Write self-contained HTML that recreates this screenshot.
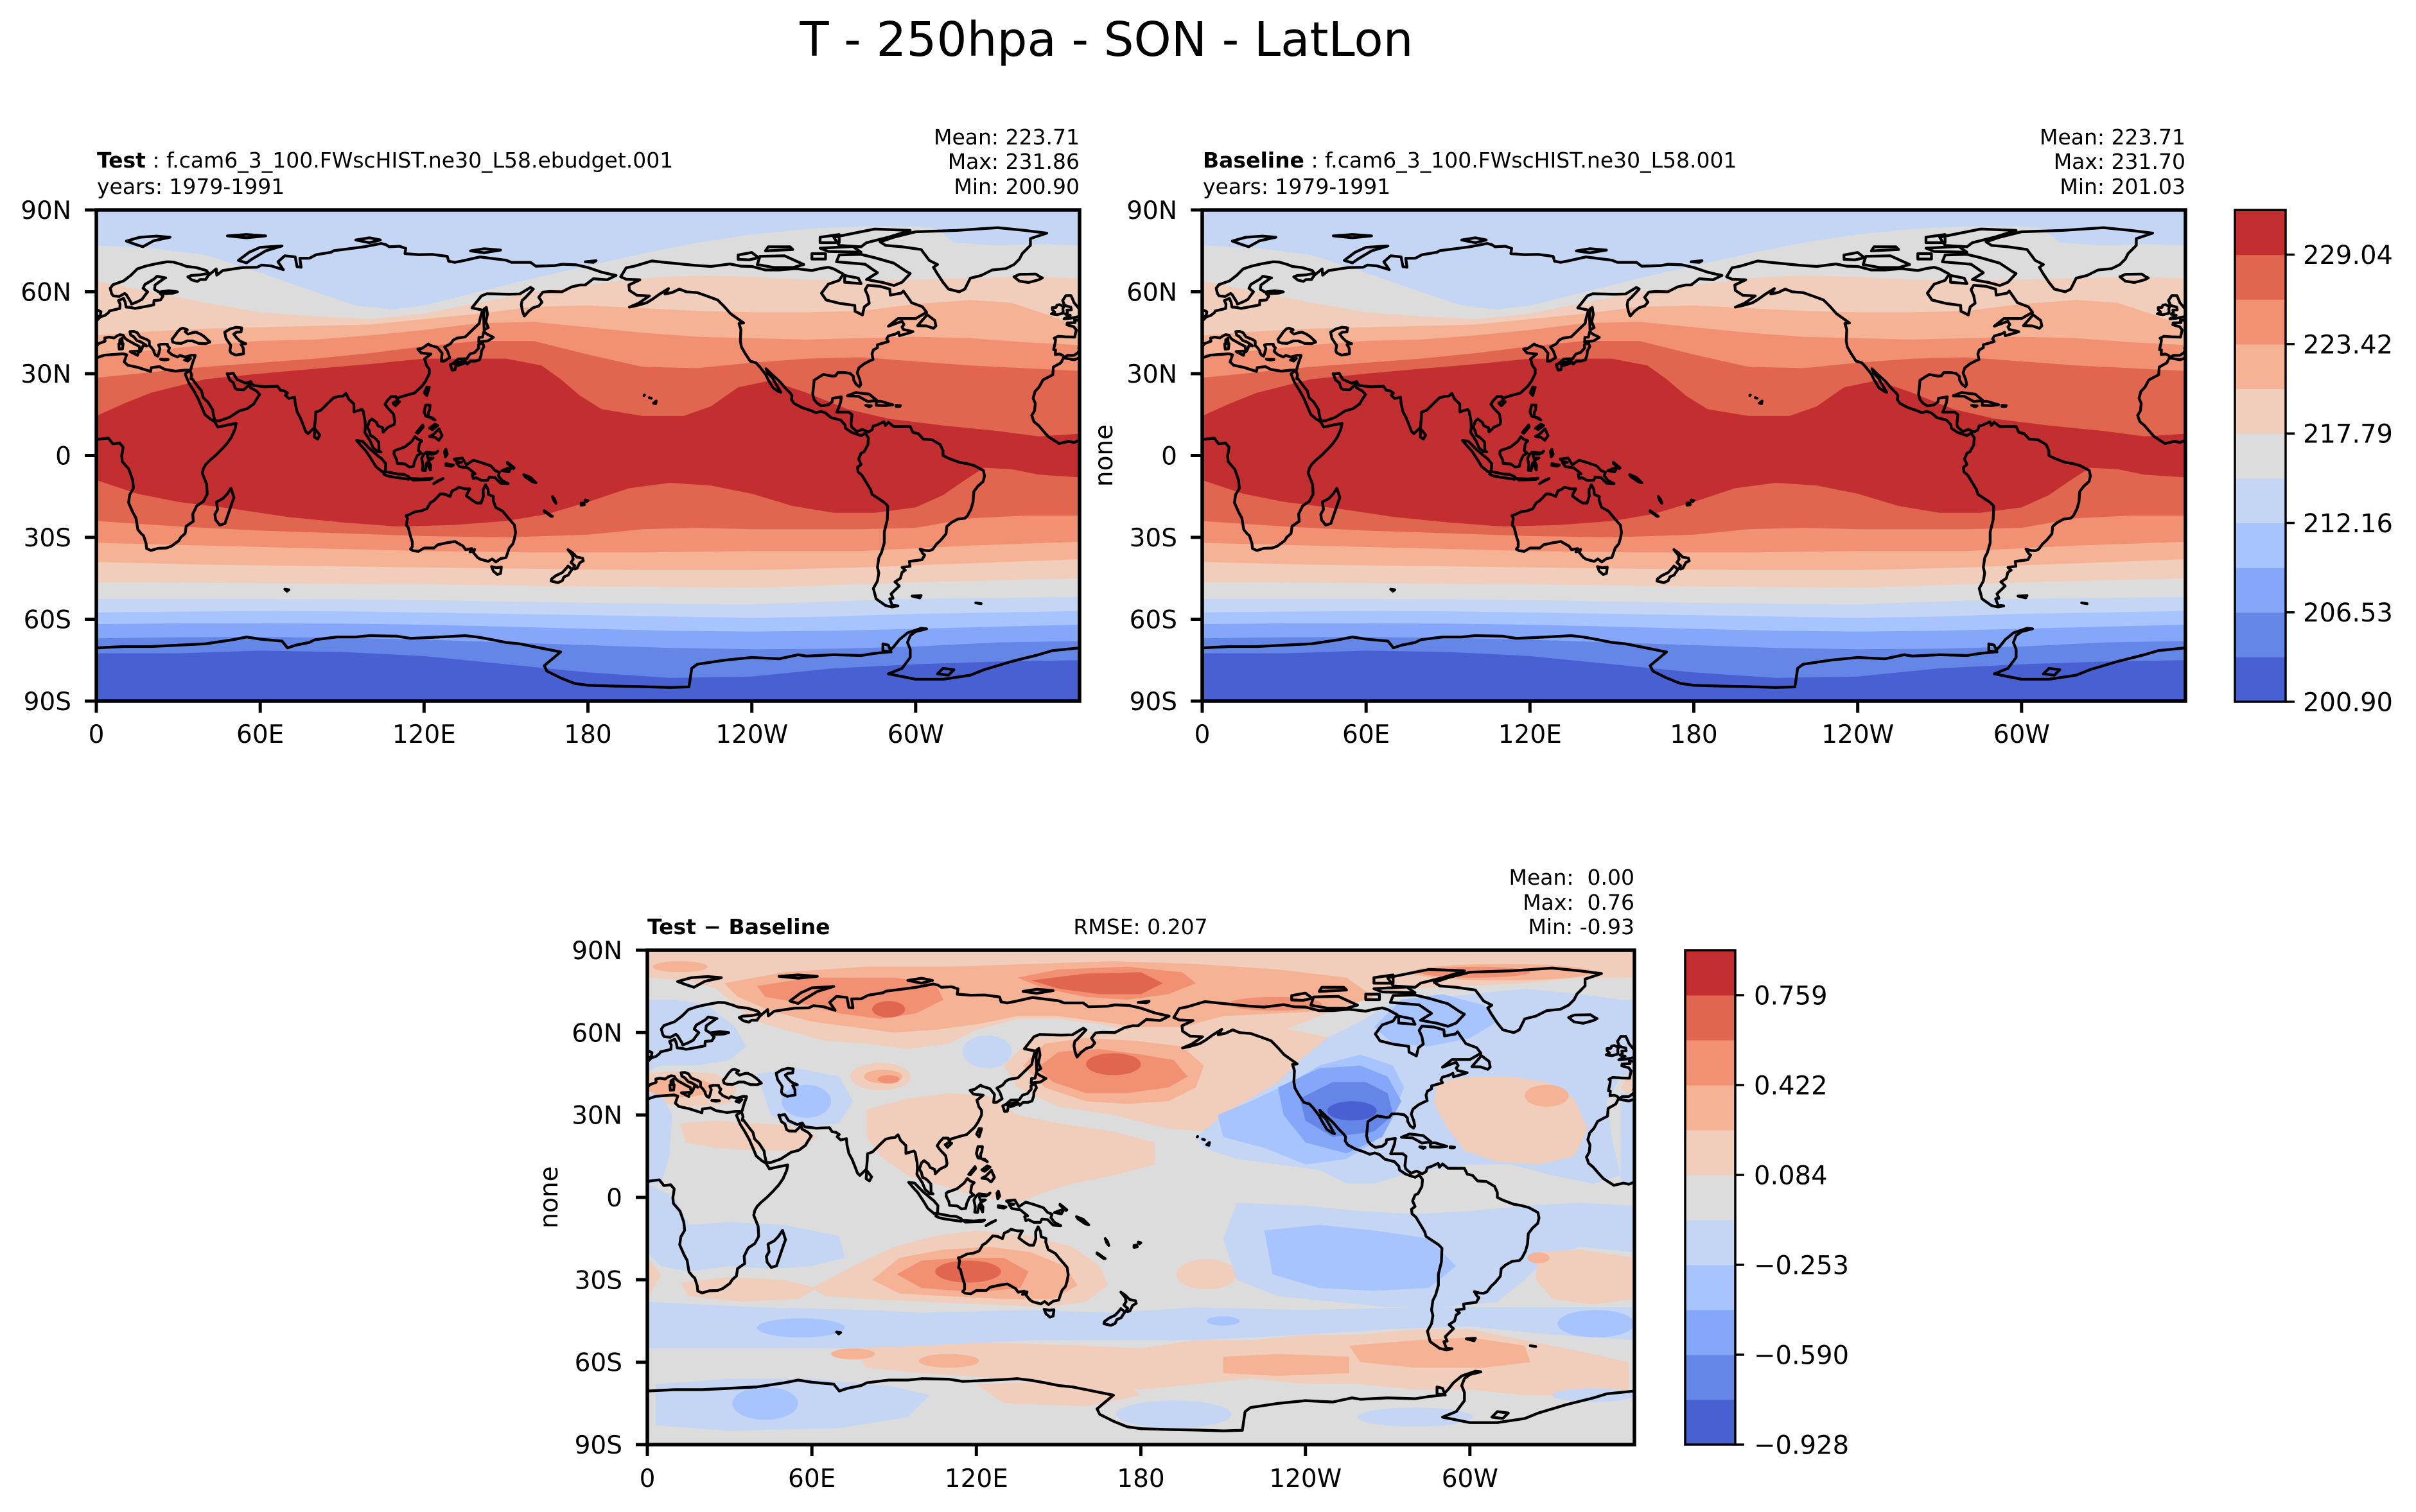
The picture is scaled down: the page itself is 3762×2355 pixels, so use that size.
<!DOCTYPE html>
<html>
<head>
<meta charset="utf-8">
<style>
html,body{margin:0;padding:0;background:#fff;}
svg{display:block;}
text{font-family:"DejaVu Sans","Liberation Sans",sans-serif;fill:#000;}
</style>
</head>
<body>
<svg xmlns="http://www.w3.org/2000/svg" width="3762" height="2355" viewBox="0 0 3762 2355">
<defs>
  <g id="bands">
    <rect x="0" y="0" width="360" height="180" fill="#4860d1"/>
    <path fill="#6486e6" d="M0,0 H360 V165 L330,165.5 300,166.5 270,168 240,171 210,171.5 180,169.5 150,166.5 120,163.5 90,162 60,161.5 30,162.5 0,162.5 Z"/>
    <path fill="#85a7fa" d="M0,0 H360 V158 L330,158.5 300,160 270,160.8 240,161 210,160.5 180,159.5 150,158.5 120,157.5 90,156.8 60,156.5 30,156.6 0,157 Z"/>
    <path fill="#a7c4fe" d="M0,0 H360 V152 L330,152.7 300,153.5 270,154.2 240,154.5 210,154.2 180,153.5 150,152.7 120,152 90,151.6 60,151.5 30,151.5 0,151.8 Z"/>
    <path fill="#c4d6f3" d="M0,0 H360 V147 L330,147.5 300,148 270,149 240,149.5 210,149 180,148.5 150,148 120,147.5 90,147.1 60,147 30,147.2 0,147.5 Z"/>
    <path fill="#dcdcdc" d="M0,13 L20,14 40,16.5 60,23 80,30 95,35 108,36.5 120,35 140,30 160,25 180,20.5 200,16 220,12 240,9 260,7 280,6 300,6 308,7 314,12 330,13 345,12.5 360,13 V141.8 L330,142.2 300,142.5 270,143.5 240,144.5 210,144.3 180,144 150,143.5 120,143 90,142.7 60,142.5 30,142.5 0,142.5 Z"/>
    <path fill="#f1cdbb" d="M0,26 L20,30 40,34 60,37.5 80,39 100,40 120,38 140,34 160,30 180,27.5 200,25 220,24 240,24.5 260,25.5 280,26 300,25.5 320,25 340,24.5 360,25 V135 L330,135.7 300,136.5 270,137.5 240,138.5 210,138.2 180,138 150,137.6 120,137.2 90,137 60,136.8 30,136.6 0,136.5 Z"/>
    <path fill="#f5b294" d="M0,46 L20,44.5 40,43.5 60,43 80,42.5 100,42 120,40 140,38 160,35.5 180,35 200,36 220,37 240,37.5 260,37.5 280,37 300,34.5 320,33 335,34 350,39 360,43 V128 L320,129.5 280,131 240,132 200,132 160,131.5 120,131 80,130.5 40,130 0,129 Z"/>
    <path fill="#f19072" d="M0,53 L20,51.5 40,49.5 60,48 80,47.5 100,46 120,44 140,41.5 160,41 180,43 200,45 220,46.5 240,47 260,47.5 280,47 300,46.5 320,47 340,48.5 360,49.5 V121.6 L320,123 280,125 240,125 200,125.5 160,125.5 120,125 80,124 40,123 0,122 Z"/>
    <path fill="#e06650" d="M0,61.5 L20,59.5 40,57.5 60,56 80,54.5 100,52.5 120,50 140,48 160,48 180,53 200,57.5 220,58 240,56 260,54.5 280,54 300,55.5 320,57 340,58 360,59 V112 L340,112 320,113 300,116.5 280,117 260,117 240,117 220,116.5 200,117 180,119 150,120 120,119.5 90,118.5 60,117.5 30,116 0,114 Z"/>
    <path fill="#c32e31" d="M0,75.5 L10,71 20,67 40,62 60,60 80,58.2 100,56.5 120,54.5 150,54.5 163,57 170,62 177,68 185,73 200,75.5 215,75.5 225,72 235,65 247,62.5 260,67 275,73 290,76.5 310,79 330,81 345,83 360,82 V98 L345,97 335,95 325,94.5 318,99 310,104.5 300,109 285,111 270,111 255,108.5 240,104 225,101 210,100 195,102 180,107 165,111.5 150,114 130,115.5 110,116 90,114.5 70,112.5 50,109.5 30,107 15,104 0,99 Z"/>
  </g>

  <g id="coast" transform="translate(0,90) scale(1,-1)">
    <path fill="none" stroke="#000" stroke-width="4.3" stroke-linejoin="round" stroke-linecap="round" vector-effect="non-scaling-stroke" d="
M-5.6 36 L-6.3 36.8 -7.4 37.2 -8.9 37 -8.8 38.7 -9.5 38.8 -8.9 41.5 -8.8 42.5 -9.3 43 -7.9 43.7 -5 43.5 -1.8 43.4 -1.2 46 -2.1 47.2 -4.6 47.9 -4.5 48.6 -1.6 48.7 -1.9 49.7 0.2 49.5 1.6 50.9 3.1 51.3 4.5 52.4 4.8 53 7 53.5 8.6 53.9 8.7 55.5 8.1 56.8 10 57.6 10.6 56.1 10.9 54.4 12.5 54.3 14.2 53.9 18.5 54.7 21 55.2 21.1 56.8 23.5 57 24.4 58.4 23.5 59.3 28 59.5 29.7 60 26.5 60.4 22.9 59.9 21.3 60.9 21.5 62.5 25 65 25.4 65.1 22.2 65.7 21.2 64.7 17.8 62.7 17.1 61.3 18.8 60 18 59 16.7 57.2 14.7 56.2 12.9 55.5 12.6 56.3 11 58.9 10.4 59.4 8.4 58.3 6.2 58.5 5.6 59.3 5.1 61.3 6.1 62.6 10 64 12.7 66.1 15 68.4 18 69.4 21.5 70.2 25.9 71 28.2 70.9 31.2 70 33 69.3 36.5 68.9 40.3 67.8 41.1 66.8 38 66.2 34.8 66 33.5 65.5 35 64.3 37 63.8 38 64.5 40 64.5 41 66 43.9 68.4 44.1 66.1 46.3 67.8 53.7 68.9 58.9 69 60.5 69.8 64 69.5 68.5 68.1 66.5 71 69 73.2 72.8 72.8 73.5 69.2 75 69 74.5 72.3 78 72.3 80.5 73.6 86 74.5 87 75.1 92 75.7 98 76.5 104.3 77.7 106 77.3 107.2 76.5 111 76.7 113.3 75.9 113 74 118 73.6 123 73.7 128.5 73 129 71.2 131.3 70.8 134.8 71.5 140.5 72.8 145 72.2 150 71.6 152 70.8 159 70.8 160.9 69.4 167.8 69.6 170.5 70.1 175.7 69.9 180 68.9 185 67.2 188 66.5 190.3 66 187 64.4 182 64.8 179 62.5 177 62.5 174 61.8 170.5 60 166 60.1 163.5 59.9 162 58 163.2 56.2 162 54.8 160 54.2 158.3 52.9 156.7 51.1 156 53 155.6 55.3 155.9 56.8 157 57.8 160 61 159 61.6 155 59.2 151 59.1 143 59.3 141 58.5 137.5 54.1 141.4 53.3 140.5 50 140.2 48.4 138.3 46.6 135.1 43.5 132 43 130.7 42.3 129.6 40.9 127.5 39.8 128.6 38.2 129.4 35.9 127.4 34.6 126.3 34.6 126.6 37.5 124.9 39.6 122 40.5 121.6 40.9 119.3 39.3 117.7 39 118.9 37.6 122.5 37.2 120.2 35.4 120.9 33 121.9 31.7 121.9 30 120.5 27.2 119.3 25.5 116.5 22.9 113.8 22.2 110.5 21.2 110.2 20.2 109.7 21.6 107.9 21.6 106.6 20.2 105.7 18.8 106.7 17.4 108.8 15.2 109.3 12.4 109 11.4 106.7 10.3 105 8.6 104.8 10.2 103.1 10.9 102.5 12.2 100.9 13.4 100 12.6 99.2 10.3 99.9 9.2 100.4 7.3 101.3 6.9 102.2 6.2 103.4 4.9 103.5 1.6 104.2 1.3 103 1.4 101.3 2.9 100.3 5.3 98.3 8.4 98.5 10.5 98.4 12.6 97.7 16.3 97.2 16.9 94.3 16 94.3 18.9 92.4 20.7 91.4 22.8 90.3 21.8 88.9 21.7 86.9 21.2 85.1 19.5 82.2 16.6 80.3 15.9 80.2 13.5 79.9 10.3 77.5 8 76.6 8.9 75.7 11.3 74.6 14 73.5 16 72.8 19.2 72.6 21.4 70.5 20.9 69.2 22.1 70 22.9 68.8 23.7 67.4 23.9 66.4 25.4 61.6 25.2 57.4 25.7 56.5 27.1 54.7 26.5 51.5 27.9 50.1 30.2 48.6 29.9 47.9 30 48.9 27.6 50.2 26.7 50.8 24.7 51.6 24.2 54 24.1 56.1 26.1 56.4 24.9 58.7 23.6 59.8 22.4 58.5 20.4 57.7 19 55.3 17.2 52.4 16.4 48.7 14 45 12.7 43.4 12.7 42.8 15.3 42.6 16.8 40.9 19.5 39.1 21.3 38.5 23.7 37.5 24.9 35.1 28.1 34.6 28.1 34.9 29.5 34.3 31.2 34.6 31.6 35 33.1 35.5 34.7 36 36 36.2 36.7 35 36.8 32.5 36.1 30.6 36.7 29.7 36.1 27.6 37 26.3 38.2 26.8 39.5 26.2 40 26 40.8 23.9 40.8 22.8 40.5 23.3 39.2 22.9 37.6 22.5 36.4 21.7 36.8 21.1 37.8 21.1 38.3 20.2 39.6 19.4 40.3 19.4 41.9 18.5 42.5 16 43.5 15 45 13.7 45.5 12.3 45.4 12.6 44.1 13.6 43.6 14.9 42.1 16.2 41.7 18 40.6 18.4 40.1 17.2 40.5 16.6 38.9 16 38 15.7 40 14.1 40.8 12.5 41.7 11.2 42.4 10.5 43 9.8 44.1 8.6 44.3 7.5 43.8 6.5 43.1 4.6 43.4 3.1 43.1 3.2 41.9 0.8 41 0 39.9 -0.3 39.3 0.1 38.7 -0.7 37.6 -2.1 36.7 -4.4 36.7 -5.6 36 Z
M-5.9 35.8 L-2 35.1 3 36.8 9.8 37.3 11.1 36.9 10.2 34.3 11.5 33.1 15.2 32.3 19.9 30.8 20.1 32.2 23.1 32.6 25 31.6 29 30.9 32.3 31.3 34.2 31.3 32.5 29.9 33.9 26.6 35.6 23.9 37.2 21 38.5 18 39.7 15.1 41.7 13.4 43.3 12.4 44.5 10.4 48 11.2 51.2 11.8 50.8 9.8 49.5 6.8 47.9 4.5 46 2.4 43.6 0 41.6 -1.7 40.1 -3.2 39.2 -4.7 38.8 -6.5 39.4 -8 40.4 -10.5 40.6 -14.2 39.2 -16.8 36.8 -18.4 35.3 -21.4 35.5 -24.1 32.9 -25.9 32.5 -28.6 31 -29.9 30.1 -31.3 27.5 -33.2 25.6 -33.9 22.6 -34 20 -34.8 18.4 -34.1 18.2 -32.2 17.3 -29.4 16.4 -28.6 15.2 -27.1 14.5 -22.9 13.4 -20.9 11.8 -17.3 12.2 -14.4 13.6 -12 13.3 -9 12.3 -6.1 11.9 -5 9.5 -2.2 9.3 0 9.5 1 9.8 3.1 8.5 4.6 6 4.3 4.4 6.4 1 6 -2 4.8 -4 5.2 -7.5 4.4 -9.7 5.8 -11.4 6.9 -13.2 8.9 -15 11 -16.7 12.4 -17.5 14.7 -16.5 16.4 -16.2 19.1 -17 21 -16.3 23.5 -14.8 25.1 -13.4 27.7 -9.8 29.6 -9.6 32.4 -6.8 34 -5.9 35.8 Z
M49.3 -12 L50.4 -15.4 49.8 -17 48.6 -20.5 47.1 -24.9 45.2 -25.5 43.7 -23.6 43.4 -21.5 44.4 -19.8 44 -17 46.3 -15.8 47.9 -14.1 49.3 -12 Z
M-168 65.5 L-166 68.8 -163 69.4 -156.6 71.3 -152 70.8 -145 70.1 -141 69.7 -135 69.3 -128 70.2 -124 69.4 -120 69.3 -115 68 -110 68 -104 68.5 -98 67.8 -95 68.5 -92 69 -90 68.4 -86.5 66.5 -88 64.2 -92 62.8 -94.5 59.5 -92.8 57 -88 55.8 -82.3 55 -82.2 52.9 -79.5 51.5 -78.8 54.5 -77 55.8 -77.5 58.5 -78.5 60.8 -77.5 62.4 -73 62 -69.5 61 -69.3 58.8 -65.3 59.5 -64.5 60.3 -61.5 56 -57.5 54.5 -56 52.5 -60 50.2 -66.5 50.2 -70 47.4 -65 49.2 -64.3 48 -65 47.1 -64.5 46.2 -61 45.4 -63.5 44.6 -66 43.9 -66.2 45.2 -67.5 44.5 -70 43.8 -70.6 42.7 -70 41.8 -71.5 41.3 -74 40.6 -74 39.5 -75.5 38.7 -76 37.2 -75.6 35.2 -76.8 34.7 -78.8 33.7 -80.8 32.1 -81.4 30.3 -80.5 28 -80.1 26 -80.6 25.2 -81.8 26.1 -82.7 27.7 -82.8 29 -84 30.1 -86 30.4 -88.5 30.4 -89.4 29.2 -90.5 29.1 -93.8 29.7 -95.5 28.7 -97.2 27.6 -97.4 25.4 -97.7 22.5 -97.2 20.5 -96.1 19.2 -94.5 18.2 -92 18.6 -90.6 19.7 -90.4 21 -87.2 21.5 -87.5 19.5 -88.2 17.5 -88.9 15.9 -84.5 15.9 -83.3 15 -83.7 11.5 -83.4 10.4 -81.5 8.8 -79.5 9.6 -77.4 8.6 -76 9.4 -75.6 10.8 -74.2 11.2 -71.6 12.4 -71.1 11 -70 12.2 -68 10.6 -64 10.6 -62 10.6 -61 8.5 -59 8 -57.2 6 -54 5.8 -52 4.6 -51 4 -50 1.8 -50 0 -48 -1 -44 -2.5 -41.5 -2.9 -38.5 -3.7 -35.2 -5.5 -34.8 -7.5 -35.3 -9.5 -37.2 -11.2 -38.7 -13.2 -39 -17 -39.7 -19.5 -41 -22 -42 -23 -44.6 -23.3 -47 -24.6 -48.6 -26 -48.9 -28.7 -50.8 -31 -52.3 -32.4 -53.8 -34.4 -55 -34.9 -56.5 -34.8 -58.4 -34.3 -57.4 -35.9 -56.7 -36.5 -57.7 -38.2 -62.3 -38.8 -62.1 -40.6 -65 -41 -63.8 -42 -65 -42.8 -65.6 -45 -67.6 -46.3 -66 -47.8 -69 -50.7 -68.3 -52.3 -69.5 -52.5 -68.6 -54.9 -66.5 -55.1 -68.6 -55.5 -71 -55 -74.5 -52.5 -75.5 -48.7 -74 -46 -73.5 -43 -74 -41 -73.5 -37.5 -72.5 -35.5 -71.5 -32 -71.5 -28 -70.4 -23.5 -70.2 -18.5 -71.5 -17.2 -76 -14.2 -76.5 -12.5 -78 -10 -79.7 -7.2 -81.1 -6 -81.3 -4.3 -80 -3.3 -80.9 -1.3 -80 0.9 -78.9 1.4 -77.5 4 -77.3 6.5 -78.5 8.2 -80 7.3 -81.5 7.8 -83.5 8.5 -85.7 10 -85.9 11.3 -87.5 13 -91 13.9 -93 15.6 -94.7 16.2 -96.5 15.7 -99 16.7 -101.7 17.6 -104.5 19.1 -105.5 20.5 -105.3 22 -106 23 -108 25 -109.3 26.6 -110.6 27.9 -112.4 29.5 -114.8 31.8 -114 30 -112.5 28.5 -111 26 -109.4 23.2 -110.3 23.5 -112.2 24.8 -114 27.8 -115 29.8 -117.1 32.5 -118.5 34 -120.6 34.6 -122.5 37.5 -123.8 39.8 -124.2 42 -124 46.2 -124.7 48.4 -123 48.6 -125 50 -127.8 52 -130 54.5 -132.5 57 -136 58.3 -140 59.7 -144 60 -146.5 61 -149 59.8 -151.8 59.2 -150.5 61.2 -154 59 -156.5 57.2 -158.5 56 -162 55 -164.8 54.4 -161.5 55.8 -157.5 58.5 -162 58.7 -164.8 60.5 -165 62.5 -161 64.4 -166 64.6 -168 65.5 Z
M-73 78.3 L-68 80 -60 82 -45 82.5 -30 83.5 -20 82.5 -12 81.5 -18 79.5 -18 77 -21 74 -22 72 -24 70 -27 68.5 -32 68 -36 66 -40 65 -42 61 -44 60 -48 61 -50 63.5 -52 66.5 -53.5 69 -52 70 -55 71.5 -58 75.5 -65 76.5 -71 77 -73 78.3 Z
M-62 66.7 L-65 63.5 -68 62.3 -72 63.4 -78 64.5 -74 67 -78.5 70.1 -89 71 -88 73.5 -80 73.7 -75 72.5 -68 70.5 -63.5 67.5 -62 66.7 Z
M-118 70 L-117 73 -108 73.2 -101 70 -105 68.9 -112 68.9 -118 70 Z
M-80 76.5 L-88 77 -90 80 -75 83 -62 82.5 -70 80 -78 78 -80 76.5 Z
M-80 74.5 L-92 74.8 -95 76 -83 76.6 -80 74.5 Z
M-125 71.9 L-121 71.7 -117.5 72.5 -120 74.4 -125 73.5 -125 71.9 Z
M-98 72 L-93 72 -93 74 -98 74 Z
M-115 75 L-105 75.5 -106 76.5 -114 76.5 Z
M-95 78 L-88 78 -88 81 -95 80 Z
M-86 63.5 L-80 63 -81 65 -86 66 Z
M-59.3 47.6 L-55.8 51.6 -53 49.5 -52.6 47.5 -53.5 46.6 -56 47.5 -59.3 47.6 Z
M-22 63.9 L-24 65.5 -22 66.4 -16 66.5 -14.5 65.5 -13.6 65.1 -15 64.4 -18.7 63.4 -22 63.9 Z
M-5.7 50.1 L-3.5 50.3 1.4 51.2 1.7 52.7 0.1 53.5 -1.6 55.5 -2 56 -3.1 58.6 -5 58.6 -6.2 56.8 -5.6 55.3 -4.8 54.8 -3.2 54.4 -3 53.4 -4.6 53.3 -4.4 52.4 -5.2 51.8 -3.4 51.4 -5.7 50.1 Z
M-6 52.2 L-6.1 53.9 -5.7 54.6 -7.3 55.3 -8.3 55.1 -8.6 54.3 -10 54.2 -9.9 53.4 -9.1 52.6 -10.3 51.9 -8.2 51.6 -6 52.2 Z
M11 78.6 L16 80 22 80.4 27 80 21 78.7 17 76.5 14 77.5 11 78.6 Z
M52 71.5 L56 74.5 60 76.3 68 76.8 62 75 57 72 55 70.6 52 71.5 Z
M95 79 L100 79.8 104 79 100 78 95 79 Z
M137 75 L142 75.8 148 75.3 142 74.3 137 75 Z
M48 80.5 L55 81 62 80.5 55 79.8 48 80.5 Z
M179 71 L183 71.4 182 70.8 179 71 Z
M142 46 L143.5 46.9 142.6 49 143.2 51.8 142.8 54.3 142 53.7 141.8 51 142 46 Z
M140 41.6 L140.1 43.3 141.4 43.4 141.9 45.4 143 44.5 145.4 43.3 143.3 42 141.2 41.8 140 41.6 Z
M130.9 34 L132.5 35.4 135.6 35.5 136.8 37.2 138.6 37.8 140 39.4 139.9 40.6 141.4 41.4 141.9 39.9 141 38.3 140.9 36.9 140.3 35.1 138.8 34.6 137 34.6 135.8 33.5 135.1 34.6 132.6 34.2 130.9 34 Z
M129.6 33.3 L130.3 31.3 131.3 31.4 131.7 33.3 130.8 33.9 129.6 33.3 Z
M132.5 33 L134.7 33.8 134 34.4 132.5 33.7 Z
M120.1 23 L121 25.1 121.9 25 121 22 120.1 23 Z
M108.6 19.2 L110.1 20.1 111 19.7 109.5 18.2 108.6 19.2 Z
M120 16 L120.6 18.5 122.2 18.5 122 16.7 121.6 15.9 121.5 14.3 124 13 123.1 13.8 120.6 14.4 120 16 Z
M122 7 L123.5 7.8 125.5 9.8 126.6 7.3 125.4 5.6 124 6.7 122 7 Z
M122 10 L124 11.5 125 11 123 9.5 Z
M117.2 8.4 L119.5 11.2 119.7 10.5 117.8 8.2 Z
M109 1.5 L109.6 2 111.2 2.5 113 3.2 115.5 5.2 116.7 6.9 117.7 6 119.2 5.4 118.3 4.4 117.9 1.8 119 0.9 117.5 0 116.5 -2.2 116.1 -4 114.6 -4.2 113 -3.1 111.7 -3 110.2 -2.9 110 -1.6 109 0.4 109 1.5 Z
M95.3 5.5 L97.5 5.2 100.4 2.2 103.7 -0.6 104.4 -1.1 106 -3 105.8 -5.8 104.6 -5.9 102.3 -4 100.6 -1.2 98.6 1.8 97.2 3.3 95.3 5.5 Z
M105.2 -6.8 L106 -5.9 108.5 -6.4 110.5 -6.8 112.6 -6.9 114.5 -7.8 114.4 -8.7 111 -8.2 108.3 -7.8 106.4 -7.4 105.2 -6.8 Z
M115 -8.4 L119 -8.6 123 -8.3 122 -8.8 116 -9 Z
M124 -10 L127 -8.4 125 -9.3 123.5 -10.3 Z
M119.4 -5.4 L119.6 -3.5 119.1 -1 119.9 0.5 120.9 1.3 124.4 0.9 125 1.6 123.5 0.5 121 0.5 121.4 -0.9 123.3 -0.9 121.5 -1.9 122.4 -3.5 122.3 -5.3 121 -2.7 120.4 -5.5 119.4 -5.4 Z
M127.5 1.5 L128 2.3 128.5 0.5 127.8 -0.5 Z
M128 -3 L130.8 -3.5 130 -3.9 128 -3.6 Z
M131 -1.3 L134 -0.9 135.5 -3.4 138 -1.7 141 -2.6 144.5 -3.8 146 -5.5 147.6 -6.1 147.2 -7.4 148.5 -9.1 150.8 -10.3 148 -10.1 146 -8.1 143.9 -7.9 143.3 -9.1 141 -9.1 139 -8.1 138 -8.4 137.6 -7 138.7 -6.7 136 -4.5 133 -4.1 132 -2.8 133.7 -2.5 132 -2.2 131 -1.3 Z
M148.5 -5.5 L152 -4.2 151 -6 148.5 -5.5 Z
M150.5 -2.5 L153 -4.5 152.7 -4.8 150.5 -2.8 Z
M156.5 -7 L159 -8 160.5 -9.5 161 -10 159.7 -9.6 157 -7.8 Z
M167 -15 L167.5 -16.5 168.3 -17.5 167.8 -16 Z
M164 -20.2 L167 -22.3 166.5 -22.3 164 -20.5 Z
M177.5 -17.5 L178.5 -17.3 178.7 -18 177.5 -18.2 Z
M179 -16.3 L180 -16.5 179.5 -16.9 Z
M113.4 -22 L114.2 -21.8 116.7 -20.6 118.9 -20.3 121 -19.5 122.3 -17.3 123.5 -16.6 124.8 -15.3 126 -14 127.7 -14.2 129.5 -15 130.2 -13 131.7 -12.3 132.6 -11.6 135 -12.2 136.8 -12.2 135.9 -13.7 135.5 -14.8 137.8 -16.5 139.3 -17.4 140.9 -17.4 141.7 -15 141.6 -12.6 142.5 -10.7 143.4 -12.4 143.6 -14.3 145.4 -15 145.3 -16.3 146.2 -19 148.8 -20.4 150.5 -22.5 153.1 -25.5 153.5 -28.2 153.1 -30.4 152.5 -32.4 151.2 -33.9 150 -37.4 148 -37.8 146.3 -39 144.9 -37.9 143.5 -38.8 140.6 -38 139.6 -37.4 138.1 -35.6 138.5 -34.4 137.7 -35.1 136.8 -35.3 137.5 -34.1 135.2 -34.5 134.3 -33.2 131.3 -31.5 128.2 -32 125 -32.7 123.6 -33.9 120 -33.9 118 -35.1 116 -34.9 115 -34.3 115.7 -33.4 115.7 -31.6 115 -29.5 114.2 -26.3 113.5 -25.6 113.9 -23.1 113.4 -22 Z
M144.7 -40.7 L146.5 -41.1 148.3 -40.9 148 -43.2 146.8 -43.6 145.4 -42.4 144.7 -40.7 Z
M172.7 -34.5 L174.3 -35.6 175.9 -37.2 178 -37.6 178.3 -38.6 177 -39.3 176 -41.3 175.2 -41.6 174.6 -41.3 175.2 -40.4 173.8 -39.2 174.6 -38 174.3 -36.5 172.7 -34.5 Z
M172.7 -40.5 L174.2 -41.7 173.3 -43 172.8 -43.8 171.2 -44.5 170.6 -45.9 169 -46.6 166.5 -46 166.7 -45.2 168.3 -44 170.6 -42.9 171.9 -41.5 172.7 -40.5 Z
M79.8 6.8 L80 9.8 81.8 7.5 81 6 79.8 6.8 Z
M-85 21.9 L-82 23.1 -77 22.5 -74.2 20.2 -77.5 19.8 -81 21.7 -85 21.9 Z
M-74.4 19.8 L-72.8 19.9 -68.4 18.6 -71 18.3 -74.4 18.4 -74.4 19.8 Z
M-78.3 18.4 L-76.3 18.2 -77 17.8 Z
M-67.2 18.4 L-65.6 18.3 -65.8 18 -67.2 18 Z
M-61.3 -51.5 L-58 -51.3 -58.5 -52.2 -61.3 -51.5 Z
M-156 19.2 L-155 20 -155.2 19 Z
M-157.5 21.2 L-156.8 21 Z
M-159.5 22 L-159.3 22.2 Z
M69 -49 L70.5 -49.2 69.8 -49.7 Z
M-38 -54 L-36 -54.3 Z
M47 45.2 L47.5 42.9 49.2 40.4 48.9 38.4 49.3 37.6 51 36.8 53.9 37.3 53.8 39.3 53 40.7 54.7 41 52.5 42 51.3 43.2 50.3 44.5 51.3 45.2 53 45.3 53.2 46.8 51.2 47 49 46.4 47 45.2 Z
M27.7 42.6 L28.6 43.7 29.7 45.3 30.8 46.4 31.7 46.7 33.3 46.1 32.5 45.4 33.6 44.5 35.5 45.1 36.6 45.2 38.3 44.4 39.7 43.4 41.6 41.6 40 41 37.5 41.1 35.2 42 33.3 42 31.1 41.1 29.1 41.2 28 41.6 27.7 42.6 Z
M12.4 38.1 L15.6 38.3 15.1 36.7 Z
M8.4 39 L9.6 39.1 9.8 41 8.2 40.9 Z
M8.6 41.4 L9.5 41.4 9.4 43 8.6 42.4 Z
M23.5 35.3 L26.3 35.2 25 35 Z
M32.3 35 L34.5 35.6 33.5 34.6 Z
M-72 -69 L-70 -69.5 -69 -72 -72 -71.5 Z
M-50 -78 L-46 -78.5 -48 -80.5 -52 -80 Z
M-180 -84.2 L-170 -84.5 -160 -84.7 -150 -85 -143 -84.8 -142 -78 -140 -76.5 -130 -75 -120 -74 -110 -74.5 -103 -73 -100 -73.5 -90 -73 -80 -73.3 -75 -72.5 -70 -72 -68 -70 -66 -67.5 -63 -65 -58 -63.3 -56 -63.5 -60 -64.5 -62 -66 -63 -68.5 -62 -71 -62 -74 -65 -78 -70 -80 -60 -82 -50 -82 -40 -80.5 -35 -78.5 -30 -77 -25 -75.5 -15 -73 -10 -71.5 0 -70.5 10 -70 20 -70 30 -69.5 40 -69 50 -67.5 55 -66.5 60 -67.3 68 -68 70 -70.5 73 -69.5 78 -68.5 80 -67.5 88 -66.5 95 -66.5 100 -66 110 -66.2 115 -67 120 -66.8 130 -66.3 135 -66 140 -66.6 145 -67.5 150 -68.5 155 -69 160 -70 165 -71 170 -72 167 -74.5 164 -77 165 -79 170 -81.5 175 -83.5 180 -84.2"/>
  </g>

  <g id="dA" transform="translate(0,90) scale(1,-1)" fill="#f1cdbb">
    <path d="M-180 90 L180 90 180 60 165 63 150 65 135 65 120 61 110 56 95 54 80 56 65 57 50 61 40 64 32 70 25 76 15 79 0 80 -20 80 -40 78 -60 77 -80 76 -95 74 -105 70 -115 66 -125 62 -135 58 -150 58 -165 60 -180 60 Z"/>
    <path d="M130 48 L140 58 160 60 180 62 200 64 230 62 250 58 255 50 245 42 235 35 220 28 205 24 190 25 170 30 150 33 135 40 Z"/>
    <path d="M80 32 L95 36 110 38 125 37 135 30 150 27 170 24 185 20 185 12 170 8 155 5 145 2 135 -2 125 0 115 2 105 5 95 8 85 15 80 22 Z"/>
    <path d="M12 27 L25 28 40 27 55 26 62 22 55 17 40 17 25 18 14 20 Z"/>
    <ellipse cx="85" cy="44" rx="11" ry="5"/>
    <path d="M-2 45 L10 46 25 45 33 40 30 34 15 33 0 35 -5 40 Z"/>
    <path d="M60 -33 L75 -25 90 -18 105 -14 120 -12 140 -14 155 -18 165 -25 168 -32 160 -38 145 -40 125 -39 100 -38 80 -37 65 -36 Z"/>
    <path d="M12 -31 L30 -29 50 -30 62 -33 55 -37 35 -38 15 -36 Z"/>
    <path d="M75 -55 L100 -52 130 -53 160 -54 180 -55 200 -52 220 -52 240 -50 260 -50 280 -48 300 -48 320 -52 340 -56 358 -60 358 -70 340 -72 320 -72 300 -70 280 -70 260 -68 240 -68 220 -66 200 -68 180 -70 160 -68 130 -66 100 -64 80 -62 Z"/>
    <ellipse cx="204" cy="-28" rx="11" ry="5.5"/>
    <path d="M120 -68 L150 -67 175 -68 180 -72 160 -76 130 -75 Z"/>
  </g>
  <g id="dB" transform="translate(0,90) scale(1,-1)" fill="#c4d6f3">
    <path d="M-160 22 L-150 30 -140 36 -130 42 -122 50 -112 58 -100 64 -90 70 -80 72 -60 74 -40 76 -20 74 -5 72 10 72 22 70 32 62 36 55 30 50 18 48 5 48 -5 44 -10 35 -8 20 -5 8 -15 5 -30 8 -45 12 -60 12 -75 10 -85 8 -95 5 -105 5 -115 10 -130 12 -145 14 -157 18 Z"/>
    <path d="M-5 38 L5 38 9 30 8 15 5 5 -5 5 Z"/>
    <path d="M40 45 L55 47 70 44 75 35 70 27 55 25 45 30 Z"/>
    <ellipse cx="124" cy="53" rx="9" ry="6"/>
    <path d="M0 5 L10 0 15 -10 30 -9 50 -10 70 -14 72 -22 60 -25 45 -26 30 -25 15 -27 5 -25 0 -20 Z"/>
    <path d="M-145 -2 L-120 -3 -100 -5 -80 -6 -60 -5 -40 -3 -20 -2 0 -3 8 -8 10 -18 0 -20 -20 -18 -32 -22 -40 -30 -50 -38 -70 -40 -90 -40 -110 -38 -130 -36 -145 -30 -150 -15 Z"/>
    <path d="M0 -38 L40 -40 80 -41 100 -42 140 -41 170 -42 200 -40 240 -41 280 -40 320 -40 360 -40 360 -52 330 -50 300 -47 270 -48 240 -50 200 -52 170 -52 140 -52 100 -54 70 -55 40 -55 0 -55 Z"/>
    <path d="M3 -68 L30 -66 60 -66 90 -69 103 -72 95 -80 70 -84 30 -85 3 -83 Z"/>
    <ellipse cx="192" cy="-79" rx="21" ry="5"/>
    <ellipse cx="280" cy="-80" rx="21" ry="3.5"/>
    <ellipse cx="345" cy="-72" rx="15" ry="2.5"/>
  </g>
  <g id="dC" transform="translate(0,90) scale(1,-1)" fill="#f1cdbb">
    <path d="M-72 42 L-60 44 -45 44 -32 42 -22 36 -17 25 -22 15 -35 12 -50 13 -62 17 -68 25 -73 34 Z"/>
    <path d="M-35 -20 L-20 -19 0 -22 5 -28 0 -37 -15 -39 -30 -37 -36 -30 Z"/>
  </g>
  <g id="dD" transform="translate(0,90) scale(1,-1)" fill="#f5b294">
    <path d="M28 78 L50 82 80 84 110 84 140 85 170 86 200 85 230 83 255 80 265 73 250 68 230 67 210 66 195 62 180 62 165 64 150 66 135 66 120 63 105 61 90 60 75 62 60 64 45 68 33 73 Z"/>
    <ellipse cx="-48" cy="82" rx="33" ry="3"/>
    <ellipse cx="12" cy="84" rx="10" ry="2"/>
    <ellipse cx="12" cy="40" rx="12" ry="3.5"/>
    <ellipse cx="86" cy="44" rx="7" ry="2.5"/>
    <path d="M137 48 L145 56 160 58 178 57 195 55 203 48 200 40 190 35 175 34 160 35 145 40 Z"/>
    <path d="M82 -30 L92 -22 108 -19 125 -18 140 -20 152 -25 157 -32 148 -37 130 -37 110 -36 92 -35 Z"/>
    <ellipse cx="-32" cy="37" rx="8" ry="4"/>
    <path d="M256 -54 L280 -52 300 -51 320 -54 322 -60 305 -62 280 -62 260 -60 Z"/>
    <path d="M210 -58 L230 -57 256 -58 256 -64 230 -65 210 -64 Z"/>
    <ellipse cx="110" cy="-59.5" rx="11" ry="2.5"/>
    <ellipse cx="75" cy="-57" rx="8" ry="2"/>
    <ellipse cx="-35" cy="-22" rx="4" ry="2"/>
  </g>
  <g id="dE" transform="translate(0,90) scale(1,-1)" fill="#a7c4fe">
    <path d="M-152 30 L-140 35 -125 42 -115 48 -100 52 -88 48 -84 40 -88 30 -95 20 -105 14 -120 12 -135 18 -150 22 Z"/>
    <path d="M-95 62 L-85 72 -70 74 -55 70 -50 64 -60 58 -75 55 -88 56 Z"/>
    <ellipse cx="58" cy="35" rx="9" ry="6"/>
    <path d="M-135 -12 L-115 -10 -95 -12 -75 -15 -65 -25 -75 -33 -95 -34 -115 -33 -132 -28 Z"/>
    <ellipse cx="56" cy="-47.5" rx="16" ry="3.5"/>
    <ellipse cx="210" cy="-45" rx="6" ry="1.7"/>
    <ellipse cx="-14" cy="-46" rx="14" ry="5"/>
    <ellipse cx="43" cy="-75" rx="12" ry="6"/>
  </g>
  <g id="dF" transform="translate(0,90) scale(1,-1)" fill="#f19072">
    <path d="M40 77 L60 80 90 80 105 78 108 72 98 67 85 65 70 67 55 71 43 73 Z"/>
    <path d="M135 80 L150 83 175 84 195 82 200 78 190 74 175 72 160 73 145 76 Z"/>
    <ellipse cx="229" cy="70.5" rx="17" ry="2.5"/>
    <ellipse cx="-58" cy="82" rx="20" ry="2"/>
    <path d="M142 47 L150 53 165 54 180 52 192 50 197 44 190 40 175 38 160 38 148 42 Z"/>
    <path d="M91 -28 L100 -23 115 -22 130 -22 139 -27 136 -33 120 -34.5 100 -33 Z"/>
    <ellipse cx="88" cy="43" rx="4" ry="1.5"/>
  </g>
  <g id="dG" transform="translate(0,90) scale(1,-1)" fill="#85a7fa">
    <path d="M-130 40 L-115 47 -100 48 -90 44 -85 35 -92 22 -105 16 -120 20 -128 30 Z"/>
  </g>
  <g id="dH" transform="translate(0,90) scale(1,-1)" fill="#e06650">
    <ellipse cx="88" cy="68.5" rx="6" ry="3"/>
    <path d="M140 79 L160 81.5 180 82 188 78 180 74 165 74 150 76 Z"/>
    <ellipse cx="170" cy="48.5" rx="10" ry="4"/>
    <ellipse cx="117" cy="-27" rx="12" ry="4"/>
  </g>
  <g id="dI" transform="translate(0,90) scale(1,-1)" fill="#6486e6">
    <path d="M-122 36 L-110 42 -98 42 -90 38 -88 30 -95 24 -110 22 -120 28 Z"/>
  </g>
  <g id="dJ" transform="translate(0,90) scale(1,-1)" fill="#4860d1">
    <ellipse cx="-103" cy="31.5" rx="9" ry="3.5"/>
  </g>
</defs>

<rect x="0" y="0" width="3762" height="2355" fill="#ffffff"/>

<text x="1723" y="87" font-size="74" text-anchor="middle">T - 250hpa - SON - LatLon</text>

<!-- Panel 1 -->
<svg x="150" y="327" width="1531" height="765" viewBox="0 0 360 180" preserveAspectRatio="none" overflow="hidden">
  <use href="#bands"/>
  <use href="#coast"/>
  <use href="#coast" x="360"/>
</svg>
<rect x="150" y="327" width="1531" height="765" fill="none" stroke="#000" stroke-width="5.5"/>
<g stroke="#000" stroke-width="5">
  <line x1="132" y1="327" x2="150" y2="327"/><line x1="132" y1="454.5" x2="150" y2="454.5"/><line x1="132" y1="582" x2="150" y2="582"/><line x1="132" y1="709.5" x2="150" y2="709.5"/><line x1="132" y1="837" x2="150" y2="837"/><line x1="132" y1="964.5" x2="150" y2="964.5"/><line x1="132" y1="1092" x2="150" y2="1092"/>
  <line x1="150" y1="1092" x2="150" y2="1110"/><line x1="405.2" y1="1092" x2="405.2" y2="1110"/><line x1="660.3" y1="1092" x2="660.3" y2="1110"/><line x1="915.5" y1="1092" x2="915.5" y2="1110"/><line x1="1170.7" y1="1092" x2="1170.7" y2="1110"/><line x1="1425.8" y1="1092" x2="1425.8" y2="1110"/>
</g>
<g font-size="39" text-anchor="end">
  <text x="111" y="341">90N</text><text x="111" y="468.5">60N</text><text x="111" y="596">30N</text><text x="111" y="723.5">0</text><text x="111" y="851">30S</text><text x="111" y="978.5">60S</text><text x="111" y="1106">90S</text>
</g>
<g font-size="39" text-anchor="middle">
  <text x="150" y="1157">0</text><text x="405.2" y="1157">60E</text><text x="660.3" y="1157">120E</text><text x="915.5" y="1157">180</text><text x="1170.7" y="1157">120W</text><text x="1425.8" y="1157">60W</text>
</g>
<text x="151" y="261" font-size="33"><tspan font-weight="bold">Test</tspan> : f.cam6_3_100.FWscHIST.ne30_L58.ebudget.001</text>
<text x="151" y="302" font-size="33">years: 1979-1991</text>
<g font-size="33" text-anchor="end">
  <text x="1681" y="225">Mean: 223.71</text>
  <text x="1681" y="263">Max: 231.86</text>
  <text x="1681" y="302">Min: 200.90</text>
</g>

<!-- Panel 2 -->
<svg x="1872" y="327" width="1531" height="765" viewBox="0 0 360 180" preserveAspectRatio="none" overflow="hidden">
  <use href="#bands"/>
  <use href="#coast"/>
  <use href="#coast" x="360"/>
</svg>
<rect x="1872" y="327" width="1531" height="765" fill="none" stroke="#000" stroke-width="5.5"/>
<g stroke="#000" stroke-width="5">
  <line x1="1854" y1="327" x2="1872" y2="327"/><line x1="1854" y1="454.5" x2="1872" y2="454.5"/><line x1="1854" y1="582" x2="1872" y2="582"/><line x1="1854" y1="709.5" x2="1872" y2="709.5"/><line x1="1854" y1="837" x2="1872" y2="837"/><line x1="1854" y1="964.5" x2="1872" y2="964.5"/><line x1="1854" y1="1092" x2="1872" y2="1092"/>
  <line x1="1872" y1="1092" x2="1872" y2="1110"/><line x1="2127.2" y1="1092" x2="2127.2" y2="1110"/><line x1="2382.3" y1="1092" x2="2382.3" y2="1110"/><line x1="2637.5" y1="1092" x2="2637.5" y2="1110"/><line x1="2892.7" y1="1092" x2="2892.7" y2="1110"/><line x1="3147.8" y1="1092" x2="3147.8" y2="1110"/>
</g>
<g font-size="39" text-anchor="end">
  <text x="1833" y="341">90N</text><text x="1833" y="468.5">60N</text><text x="1833" y="596">30N</text><text x="1833" y="723.5">0</text><text x="1833" y="851">30S</text><text x="1833" y="978.5">60S</text><text x="1833" y="1106">90S</text>
</g>
<g font-size="39" text-anchor="middle">
  <text x="1872" y="1157">0</text><text x="2127.2" y="1157">60E</text><text x="2382.3" y="1157">120E</text><text x="2637.5" y="1157">180</text><text x="2892.7" y="1157">120W</text><text x="3147.8" y="1157">60W</text>
</g>
<text font-size="39" text-anchor="middle" transform="translate(1732,709.5) rotate(-90)">none</text>
<text x="1873" y="261" font-size="33"><tspan font-weight="bold">Baseline</tspan> : f.cam6_3_100.FWscHIST.ne30_L58.001</text>
<text x="1873" y="302" font-size="33">years: 1979-1991</text>
<g font-size="33" text-anchor="end">
  <text x="3403" y="225">Mean: 223.71</text>
  <text x="3403" y="263">Max: 231.70</text>
  <text x="3403" y="302">Min: 201.03</text>
</g>

<!-- top colorbar -->
<g>
  <rect x="3480" y="1023.4" width="79" height="70" fill="#4860d1"/>
  <rect x="3480" y="953.7" width="79" height="70.2" fill="#6486e6"/>
  <rect x="3480" y="884.1" width="79" height="70.2" fill="#85a7fa"/>
  <rect x="3480" y="814.5" width="79" height="70.2" fill="#a7c4fe"/>
  <rect x="3480" y="744.8" width="79" height="70.2" fill="#c4d6f3"/>
  <rect x="3480" y="675.2" width="79" height="70.2" fill="#dcdcdc"/>
  <rect x="3480" y="605.5" width="79" height="70.2" fill="#f1cdbb"/>
  <rect x="3480" y="535.9" width="79" height="70.2" fill="#f5b294"/>
  <rect x="3480" y="466.3" width="79" height="70.2" fill="#f19072"/>
  <rect x="3480" y="396.6" width="79" height="70.2" fill="#e06650"/>
  <rect x="3480" y="327" width="79" height="70.2" fill="#c32e31"/>
  <rect x="3480" y="327" width="79" height="766" fill="none" stroke="#000" stroke-width="3.5"/>
  <g stroke="#000" stroke-width="3.5">
    <line x1="3559" y1="1093" x2="3573" y2="1093"/><line x1="3559" y1="953.7" x2="3573" y2="953.7"/><line x1="3559" y1="814.5" x2="3573" y2="814.5"/><line x1="3559" y1="675.2" x2="3573" y2="675.2"/><line x1="3559" y1="535.9" x2="3573" y2="535.9"/><line x1="3559" y1="396.6" x2="3573" y2="396.6"/>
  </g>
  <g font-size="40">
    <text x="3586" y="1107.5">200.90</text><text x="3586" y="968.2">206.53</text><text x="3586" y="829">212.16</text><text x="3586" y="689.7">217.79</text><text x="3586" y="550.4">223.42</text><text x="3586" y="411">229.04</text>
  </g>
</g>

<!-- Bottom panel -->
<svg x="1008" y="1480" width="1537" height="770" viewBox="0 0 360 180" preserveAspectRatio="none" overflow="hidden">
  <rect x="0" y="0" width="360" height="180" fill="#dcdcdc"/>
  <use href="#dA"/><use href="#dA" x="360"/>
  <use href="#dB"/><use href="#dB" x="360"/>
  <use href="#dC"/><use href="#dC" x="360"/>
  <use href="#dD"/><use href="#dD" x="360"/>
  <use href="#dE"/><use href="#dE" x="360"/>
  <use href="#dF"/><use href="#dF" x="360"/>
  <use href="#dG"/><use href="#dG" x="360"/>
  <use href="#dH"/><use href="#dH" x="360"/>
  <use href="#dI"/><use href="#dI" x="360"/>
  <use href="#dJ"/><use href="#dJ" x="360"/>
  <use href="#coast"/>
  <use href="#coast" x="360"/>
</svg>
<rect x="1008" y="1480" width="1537" height="770" fill="none" stroke="#000" stroke-width="5.5"/>
<g stroke="#000" stroke-width="5">
  <line x1="990" y1="1480" x2="1008" y2="1480"/><line x1="990" y1="1608.3" x2="1008" y2="1608.3"/><line x1="990" y1="1736.7" x2="1008" y2="1736.7"/><line x1="990" y1="1865" x2="1008" y2="1865"/><line x1="990" y1="1993.3" x2="1008" y2="1993.3"/><line x1="990" y1="2121.7" x2="1008" y2="2121.7"/><line x1="990" y1="2250" x2="1008" y2="2250"/>
  <line x1="1008" y1="2250" x2="1008" y2="2268"/><line x1="1264.2" y1="2250" x2="1264.2" y2="2268"/><line x1="1520.3" y1="2250" x2="1520.3" y2="2268"/><line x1="1776.5" y1="2250" x2="1776.5" y2="2268"/><line x1="2032.7" y1="2250" x2="2032.7" y2="2268"/><line x1="2288.8" y1="2250" x2="2288.8" y2="2268"/>
</g>
<g font-size="39" text-anchor="end">
  <text x="969" y="1494">90N</text><text x="969" y="1622.3">60N</text><text x="969" y="1750.7">30N</text><text x="969" y="1879">0</text><text x="969" y="2007.3">30S</text><text x="969" y="2135.7">60S</text><text x="969" y="2264">90S</text>
</g>
<g font-size="39" text-anchor="middle">
  <text x="1008" y="2316">0</text><text x="1264.2" y="2316">60E</text><text x="1520.3" y="2316">120E</text><text x="1776.5" y="2316">180</text><text x="2032.7" y="2316">120W</text><text x="2288.8" y="2316">60W</text>
</g>
<text font-size="39" text-anchor="middle" transform="translate(868,1865) rotate(-90)">none</text>
<text x="1008" y="1455" font-size="33" font-weight="bold">Test − Baseline</text>
<text x="1776" y="1455" font-size="33" text-anchor="middle">RMSE: 0.207</text>
<g font-size="33" text-anchor="end" style="white-space:pre">
  <text x="2545" y="1378" xml:space="preserve">Mean:  0.00</text>
  <text x="2545" y="1417" xml:space="preserve">Max:  0.76</text>
  <text x="2545" y="1455">Min: -0.93</text>
</g>

<!-- bottom colorbar -->
<g>
  <rect x="2624" y="2180" width="78" height="70" fill="#4860d1"/>
  <rect x="2624" y="2110" width="78" height="70.5" fill="#6486e6"/>
  <rect x="2624" y="2040" width="78" height="70.5" fill="#85a7fa"/>
  <rect x="2624" y="1970" width="78" height="70.5" fill="#a7c4fe"/>
  <rect x="2624" y="1900" width="78" height="70.5" fill="#c4d6f3"/>
  <rect x="2624" y="1830" width="78" height="70.5" fill="#dcdcdc"/>
  <rect x="2624" y="1760" width="78" height="70.5" fill="#f1cdbb"/>
  <rect x="2624" y="1690" width="78" height="70.5" fill="#f5b294"/>
  <rect x="2624" y="1620" width="78" height="70.5" fill="#f19072"/>
  <rect x="2624" y="1550" width="78" height="70.5" fill="#e06650"/>
  <rect x="2624" y="1480" width="78" height="70.5" fill="#c32e31"/>
  <rect x="2624" y="1480" width="78" height="770" fill="none" stroke="#000" stroke-width="3.5"/>
  <g stroke="#000" stroke-width="3.5">
    <line x1="2702" y1="2250" x2="2716" y2="2250"/><line x1="2702" y1="2110" x2="2716" y2="2110"/><line x1="2702" y1="1970" x2="2716" y2="1970"/><line x1="2702" y1="1830" x2="2716" y2="1830"/><line x1="2702" y1="1690" x2="2716" y2="1690"/><line x1="2702" y1="1550" x2="2716" y2="1550"/>
  </g>
  <g font-size="40">
    <text x="2731" y="2264.5">−0.928</text><text x="2731" y="2124.5">−0.590</text><text x="2731" y="1984.5">−0.253</text><text x="2731" y="1844.5">0.084</text><text x="2731" y="1704.5">0.422</text><text x="2731" y="1564.5">0.759</text>
  </g>
</g>
</svg>
</body>
</html>
